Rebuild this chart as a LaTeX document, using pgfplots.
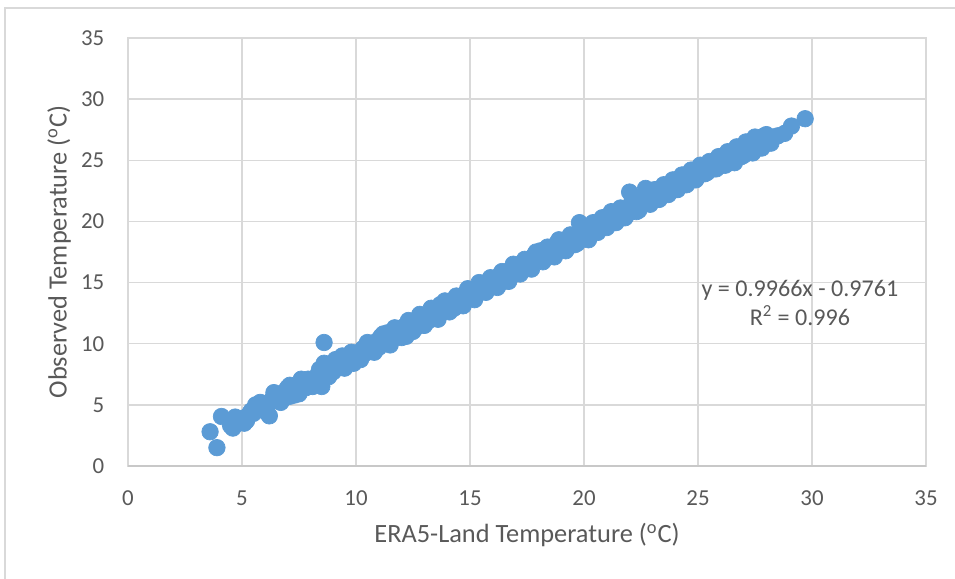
\documentclass[border=0pt]{standalone}
\usepackage{pgfplots}
\pgfplotsset{compat=1.18}
\usepackage{fontspec}
\setmainfont{Carlito}
\definecolor{ptblue}{HTML}{5B9BD5}
\definecolor{gridgray}{HTML}{D9D9D9}
\definecolor{axisgray}{HTML}{C8C8C8}
\definecolor{txtgray}{HTML}{595959}
\definecolor{framegray}{HTML}{D9D9D9}
\begin{document}
\begin{tikzpicture}
\useasboundingbox (-2.56,-2.26) rectangle (16.54,9.32);
\draw[framegray, line width=0.6pt] (-2.46,-2.30) -- (-2.46,9.16) -- (16.60,9.16);
\begin{axis}[
  at={(0,0)}, anchor=south west,
  scale only axis,
  width=15.96cm, height=8.56cm,
  xmin=0, xmax=35, ymin=0, ymax=35,
  xtick={0,5,...,35}, ytick={0,5,...,35},
  grid=major,
  major grid style={gridgray, line width=0.8pt},
  axis line style={gridgray, line width=0.8pt},
  major tick length=0pt,
  tick label style={font=\fontsize{13}{15}\selectfont, text=txtgray},
  /pgf/number format/assume math mode=true,
  xticklabel style={yshift=-10.5pt},
  yticklabel style={xshift=-10pt},
  label style={font=\fontsize{15}{17}\selectfont, text=txtgray},
  xlabel={ERA5-Land Temperature (\textsuperscript{o}C)},
  ylabel={Observed Temperature (\textsuperscript{o}C)},
  xlabel style={yshift=-3pt},
  ylabel style={yshift=-1pt},
  clip=false,
]
\addplot[only marks, mark=*, mark size=4.7pt, color=ptblue, mark options={fill=ptblue, draw=ptblue}] coordinates {
(3.6,2.8)(3.9,1.5)(4.1,4.05)
(4.5,3.3)(4.6,3.1)(4.8,3.8)(5.0,3.9)(5.1,3.5)(5.3,4.2)(5.4,4.5)(5.5,4.3)(5.7,4.6)(5.8,5.2)(5.9,4.8)(6.1,4.9)(6.2,4.1)(6.3,5.4)(6.5,5.6)(6.6,5.3)(6.8,6.0)(6.9,5.8)(7.0,6.4)(7.1,5.7)(7.2,6.2)(7.4,6.5)(7.5,5.9)(7.7,6.9)(7.8,6.4)(7.9,7.1)(8.0,6.6)(8.2,6.9)(8.3,7.4)(8.5,6.5)(8.6,8.4)(8.6,10.1)(8.7,7.6)(8.9,8.0)(9.0,7.7)(9.2,8.6)(9.3,8.1)(9.4,9.0)(9.6,8.5)(9.7,8.9)(9.9,8.4)(10.0,9.1)(10.1,8.8)(10.3,9.6)(10.4,9.2)(10.6,10.0)(10.7,9.5)(10.9,10.2)(11.0,9.7)(11.1,10.6)(11.3,10.3)(11.4,10.9)(11.6,10.5)(11.8,11.2)(11.9,10.8)(12.1,11.4)(12.2,10.6)(12.4,11.5)(12.6,11.9)(12.7,11.4)(12.9,12.0)(13.1,12.3)(13.2,11.9)(13.4,12.8)(13.5,12.3)(13.7,13.2)(13.8,12.6)(14.0,13.0)(14.2,13.4)(14.3,12.9)(14.5,13.7)(14.6,13.3)(14.8,14.1)(15.0,13.8)(15.1,14.4)(15.3,14.0)(15.5,14.9)(15.6,14.3)(15.8,14.8)(16.0,15.3)(16.1,14.7)(16.3,15.6)(16.5,15.1)(16.6,15.9)(16.8,15.5)(17.0,16.4)(17.1,15.8)(17.3,16.3)(17.5,16.8)(17.6,16.2)(17.8,17.2)(18.0,16.8)(18.1,17.6)(18.3,17.2)(18.5,17.8)(18.6,17.3)(18.8,18.2)(19.0,17.7)(19.1,18.4)(19.3,18.0)(19.5,18.6)(19.7,18.2)(19.8,19.9)(20.0,19.0)(20.2,18.5)(20.3,19.5)(20.5,19.8)(20.7,19.4)(20.9,20.1)(21.1,19.8)(21.3,20.5)(21.5,20.3)(21.7,21.0)(21.9,20.6)(22.0,22.4)(22.2,21.3)(22.4,20.9)(22.5,21.8)(22.7,22.7)(22.8,21.5)(23.0,22.2)(23.2,21.8)(23.4,22.6)(23.6,22.3)(23.8,23.0)(24.0,22.6)(24.2,23.3)(24.4,23.0)(24.6,23.8)(24.8,23.5)(25.0,24.2)(25.2,24.4)(25.4,24.0)(25.6,24.7)(25.8,24.3)(26.0,25.0)(26.2,24.6)(26.4,25.3)(26.6,24.8)(26.8,25.7)(27.0,25.4)(27.2,26.2)(27.4,25.6)(27.6,26.6)(27.8,26.0)(27.9,27.0)(28.1,26.5)(28.3,26.9)(28.8,27.2)(29.1,27.8)(29.7,28.4)
(4.7,4.0)(5.2,3.7)(5.6,5.0)(6.0,4.5)(6.4,6.0)(6.7,5.2)(7.1,6.6)(7.3,5.8)(7.6,7.1)(8.1,6.5)(8.4,7.9)(8.8,7.3)(9.1,8.7)(9.5,8.0)(9.8,9.3)(10.2,8.7)(10.5,10.1)(10.8,9.3)(11.2,10.8)(11.5,9.9)(11.7,11.3)(12.0,10.5)(12.3,11.9)(12.5,11.0)(12.8,12.4)(13.0,11.5)(13.3,12.9)(13.6,12.0)(13.9,13.5)(14.1,12.6)(14.4,13.9)(14.7,13.1)(14.9,14.5)(15.2,13.6)(15.4,15.0)(15.7,14.2)(15.9,15.4)(16.2,14.6)(16.4,15.9)(16.7,15.1)(16.9,16.5)(17.2,15.7)(17.4,16.9)(17.7,16.1)(17.9,17.5)(18.2,16.7)(18.4,17.9)(18.7,17.1)(18.9,18.5)(19.2,17.6)(19.4,18.9)(19.6,18.1)(19.9,19.4)(20.1,18.6)(20.4,19.9)(20.6,19.1)(20.8,20.3)(21.0,19.5)(21.2,20.8)(21.4,19.9)(21.6,21.1)(21.8,20.3)(22.1,21.6)(22.3,20.8)(22.6,22.1)(22.9,21.4)(23.1,22.6)(23.3,21.8)(23.5,23.0)(23.7,22.2)(23.9,23.4)(24.1,22.6)(24.3,23.8)(24.5,23.0)(24.7,24.2)(24.9,23.4)(25.1,24.6)(25.3,23.9)(25.5,24.9)(25.7,24.3)(25.9,25.3)(26.1,24.6)(26.3,25.7)(26.5,24.9)(26.7,26.1)(26.9,25.3)(27.1,26.5)(27.3,25.8)(27.5,26.9)(27.7,26.1)(28.0,27.1)(28.2,26.4)(28.5,27.0)
};
\node[align=center, text=txtgray, font=\fontsize{13.7}{17}\selectfont] at (axis cs:29.47,13.33) {y = 0.9966x - 0.9761\\R\textsuperscript{2} = 0.996};
\end{axis}
\draw[axisgray, line width=0.8pt] (0,0) -- (15.96,0);
\end{tikzpicture}
\end{document}
